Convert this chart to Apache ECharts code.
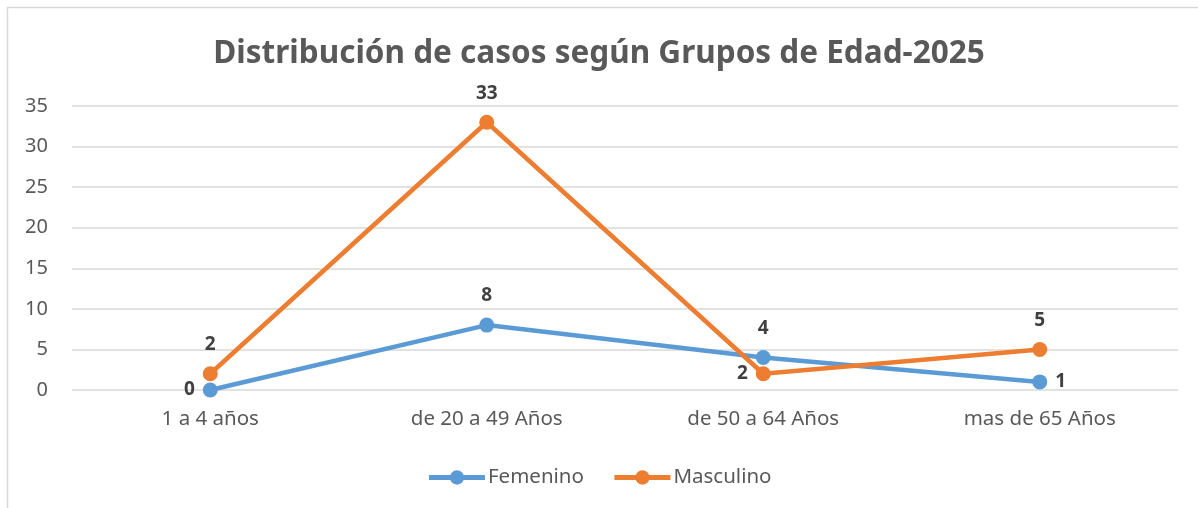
<!DOCTYPE html>
<html>
<head>
<meta charset="utf-8">
<script src="https://cdn.jsdelivr.net/npm/echarts@6/dist/echarts.min.js"></script>
<style>
  html, body { margin: 0; padding: 0; background: #fff; }
  #chart { width: 1198px; height: 508px; }
</style>
</head>
<body>
<div id="chart"></div>
<script>
  // datos
  const categorias = ['1 a 4 años', 'de 20 a 49 Años', 'de 50 a 64 Años', 'mas de 65 Años']
  const femenino = [0, 8, 4, 1]
  const masculino = [2, 33, 2, 5]
  // posicion de etiquetas por punto
  const posFemenino = ['left', 'top', 'top', 'right']
  const posMasculino = ['top', 'top', 'left', 'top']

  const fuente = '"Noto Sans", "Open Sans", sans-serif'
  const myChart = echarts.init(document.getElementById('chart'))

  function puntos(valores, posiciones) {
    return valores.map(function(v, i) {
      const pos = posiciones[i]
      return { value: v, label: { position: pos, distance: pos === 'top' ? 12 : 8 } }
    })
  }

  const option = {
    animation: false,
    graphic: [{
      type: 'rect',
      shape: { x: 7.5, y: 7.5, width: 1300, height: 600 },
      style: { fill: 'none', stroke: '#d9d9d9', lineWidth: 1.5 },
      silent: true
    }],
    title: {
      text: 'Distribución de casos según Grupos de Edad-2025',
      left: 'center',
      top: 33,
      textStyle: { fontFamily: fuente, fontSize: 31.5, fontWeight: 'bold', color: '#595959' }
    },
    legend: {
      bottom: 15,
      left: 'center',
      itemWidth: 56,
      itemHeight: 18,
      itemGap: 28,
      lineStyle: { width: 5 },
      textStyle: { fontFamily: fuente, fontSize: 20.5, color: '#595959', padding: [0, 0, 0, -2] },
      data: ['Femenino', 'Masculino']
    },
    grid: { left: 72, right: 20, top: 106, bottom: 118 },
    xAxis: {
      type: 'category',
      data: categorias,
      axisLine: { show: false },
      axisTick: { show: false },
      axisLabel: { fontFamily: fuente, fontSize: 20.5, color: '#595959', margin: 19 }
    },
    yAxis: {
      type: 'value',
      min: 0,
      max: 35,
      interval: 5,
      axisLine: { show: false },
      axisTick: { show: false },
      axisLabel: { fontFamily: fuente, fontSize: 20, color: '#595959', margin: 24 },
      splitLine: { lineStyle: { color: '#d9d9d9', width: 1.5 } }
    },
    series: [
      {
        name: 'Femenino',
        type: 'line',
        data: puntos(femenino, posFemenino),
        symbol: 'circle',
        symbolSize: 15,
        color: '#5B9BD5',
        lineStyle: { width: 4.5 },
        label: {
          show: true,
          fontFamily: fuente, fontSize: 19, fontWeight: 'bold', color: '#404040'
        }
      },
      {
        name: 'Masculino',
        type: 'line',
        data: puntos(masculino, posMasculino),
        symbol: 'circle',
        symbolSize: 15,
        color: '#ED7D31',
        lineStyle: { width: 4.5 },
        label: {
          show: true,
          fontFamily: fuente, fontSize: 19, fontWeight: 'bold', color: '#404040'
        }
      }
    ]
  }
  myChart.setOption(option)
</script>
</body>
</html>
